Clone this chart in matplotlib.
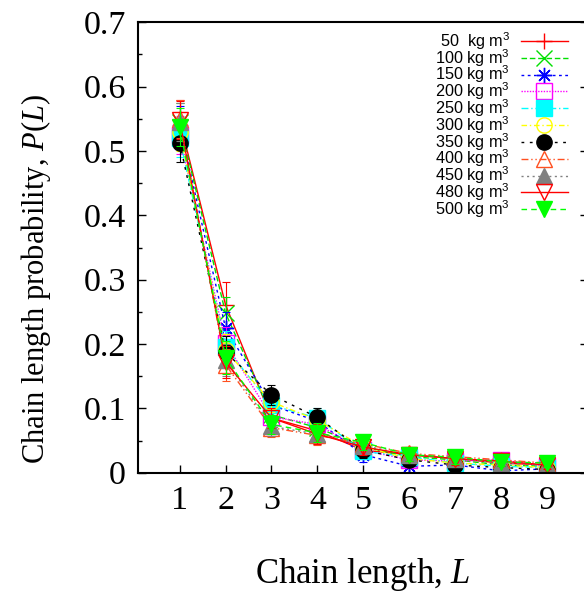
import matplotlib
matplotlib.use("Agg")
import matplotlib.pyplot as plt

plt.rcParams['font.family'] = 'Liberation Serif'
plt.rcParams['mathtext.fontset'] = 'custom'
plt.rcParams['mathtext.rm'] = 'Liberation Serif'
plt.rcParams['mathtext.it'] = 'Liberation Serif:italic'

# chain lengths and probabilities
L = [1, 2, 3, 4, 5, 6, 7, 8, 9]
densities = ["50 ", "100", "150", "200", "250", "300", "350", "400", "450", "480", "500"]
p50 = [0.548, 0.261, 0.085, 0.065, 0.035, 0.028, 0.022, 0.015, 0.012]
p100 = [0.545, 0.248, 0.090, 0.070, 0.040, 0.025, 0.020, 0.012, 0.010]
p150 = [0.540, 0.225, 0.105, 0.080, 0.028, 0.010, 0.012, 0.003, 0.006]
p200 = [0.525, 0.202, 0.087, 0.075, 0.035, 0.020, 0.018, 0.020, 0.010]
p250 = [0.520, 0.195, 0.105, 0.085, 0.033, 0.025, 0.015, 0.010, 0.008]
p300 = [0.530, 0.190, 0.110, 0.082, 0.040, 0.022, 0.015, 0.012, 0.008]
p350 = [0.513, 0.187, 0.121, 0.086, 0.035, 0.020, 0.012, 0.008, 0.005]
p400 = [0.550, 0.168, 0.070, 0.058, 0.045, 0.030, 0.025, 0.020, 0.015]
p450 = [0.545, 0.175, 0.072, 0.060, 0.042, 0.028, 0.022, 0.015, 0.012]
p480 = [0.548, 0.172, 0.085, 0.060, 0.040, 0.028, 0.022, 0.018, 0.012]
p500 = [0.537, 0.179, 0.075, 0.062, 0.047, 0.028, 0.024, 0.017, 0.015]
err = [0.030, 0.025, 0.015, 0.015, 0.012, 0.010, 0.010, 0.007, 0.006]
err50 = [0.032, 0.035, 0.018, 0.015, 0.012, 0.010, 0.010, 0.007, 0.006]

series = [p50, p100, p150, p200, p250, p300, p350, p400, p450, p480, p500]
errors = [err50] + [err] * 10

styles = [
    dict(color='#ff0000', ls='-', marker='+', mfc='none'),
    dict(color='#00e000', ls=(0, (4, 2)), marker='x', mfc='none'),
    dict(color='#0000ff', ls=(0, (2, 2.5)), marker=(8, 2, 0), mfc='none'),
    dict(color='#ff00ff', ls=(0, (1, 1)), marker='s', mfc='none'),
    dict(color='#00ffff', ls=(0, (5, 2, 1, 2)), marker='s', mfc='#00ffff'),
    dict(color='#ffff00', ls=(0, (4, 2, 1, 2)), marker='o', mfc='none'),
    dict(color='#000000', ls=(0, (2, 4)), marker='o', mfc='#000000'),
    dict(color='#ff5020', ls=(0, (5, 2, 1, 2, 1, 2)), marker='^', mfc='none'),
    dict(color='#808080', ls=(0, (1.5, 2.5)), marker='^', mfc='#808080'),
    dict(color='#ff0000', ls='-', marker='v', mfc='none'),
    dict(color='#00ff00', ls=(0, (4, 3)), marker='v', mfc='#00ff00'),
]

fig = plt.figure(figsize=(5.84, 5.95), dpi=100)
ax = fig.add_axes([0.2368, 0.2055, 1.0074 - 0.2368, 0.9625 - 0.2055])

for d, p, e, st in zip(densities, series, errors, styles):
    ax.errorbar(L, p, yerr=e, fmt='none', ecolor=st['color'], elinewidth=0.8,
                capsize=3, capthick=0.8)
    ax.plot(L, p, color=st['color'], ls=st['ls'], lw=1.0, marker=st['marker'],
            ms=11, mfc=st['mfc'], mec=st['color'], mew=1.0,
            label=d + r" kg $\mathregular{m^3}$")

ax.set_xlim(0.1, 9.9)
ax.set_ylim(0, 0.7)
ax.set_xticks(L)
ax.set_yticks([0, 0.1, 0.2, 0.3, 0.4, 0.5, 0.6, 0.7])
ax.set_yticklabels(["0", "0.1", "0.2", "0.3", "0.4", "0.5", "0.6", "0.7"])
ax.set_yticks([0.05, 0.15, 0.25, 0.35, 0.45, 0.55, 0.65], minor=True)
ax.tick_params(which='major', direction='in', length=5.8, width=1.0,
               labelsize=24.5, right=True, pad=9)
ax.tick_params(which='minor', direction='in', length=2.9, width=1.0, right=True)
for s in ax.spines.values():
    s.set_linewidth(1.5)

ax.set_xlabel(r"Chain length, $\mathit{L}$", fontsize=25)
ax.set_ylabel(r"Chain length probability, $\mathit{P}$($\mathit{L}$)", fontsize=22)
ax.xaxis.set_label_coords(0.498, -0.185)
ax.yaxis.set_label_coords(-0.19, 0.43)

leg = ax.legend(loc='upper right', bbox_to_anchor=(568 / 584, 1 - 30 / 595),
                bbox_transform=fig.transFigure, frameon=False, markerfirst=False,
                prop={'family': 'Liberation Sans', 'size': 11.7},
                handlelength=2.9, handletextpad=0.65, labelspacing=-0.3,
                borderpad=0, borderaxespad=0)

fig.savefig("out.png", dpi=100)
